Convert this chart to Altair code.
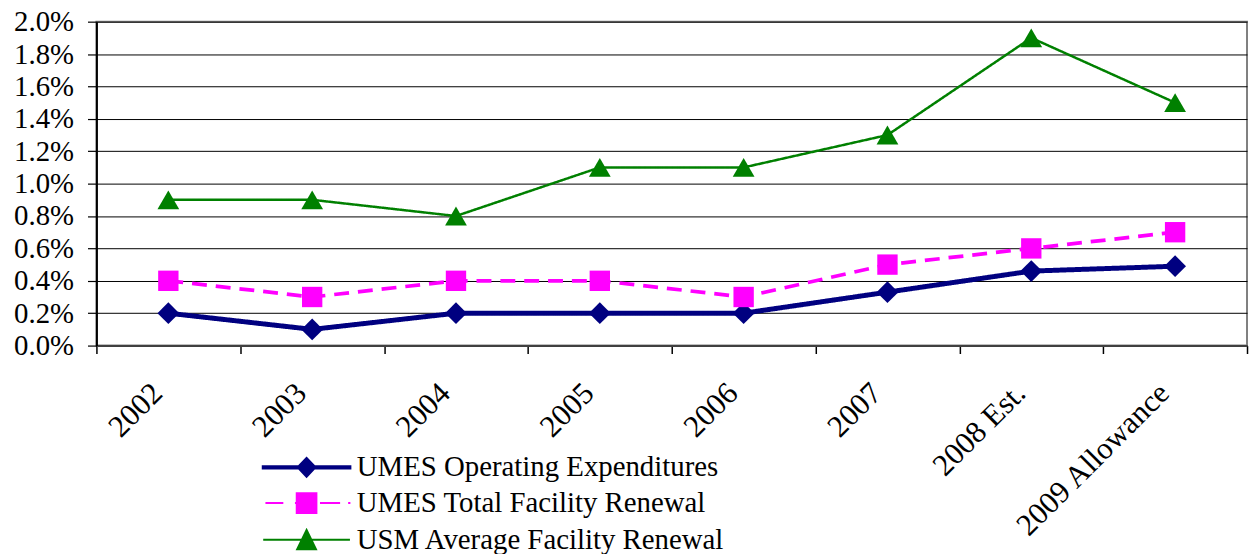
import altair as alt
import pandas as pd

categories = ["2002", "2003", "2004", "2005", "2006", "2007", "2008  Est.", "2009  Allowance"]
series_names = ["UMES Operating Expenditures", "UMES Total Facility Renewal", "USM Average Facility Renewal"]
umes_operating = [0.002, 0.001, 0.002, 0.002, 0.002, 0.0033, 0.0046, 0.0049]
umes_facility = [0.004, 0.003, 0.004, 0.004, 0.003, 0.005, 0.006, 0.007]
usm_facility = [0.009, 0.009, 0.008, 0.011, 0.011, 0.013, 0.019, 0.015]

series_colors = ["#000080", "#FF00FF", "#008000"]
series_shapes = ["diamond", "square", "triangle-up"]
series_sizes = [480, 420, 480]
series_widths = [5, 2.5, 2]
series_dash = [[1, 0], [15, 9], [1, 0]]
legend_paths = [
    "M-4.9,-0.13H4.9V0.13H-4.9Z M0,-1.05L1.0,0L0,1.05L-1.0,0Z",
    "M-4.6,0H-2.6 M-1.3,0H-1.1 M1.5,0H3.75 M4.65,0H4.9 M-1.1,-1.1H1.1V1.1H-1.1Z",
    "M-4.85,0H4.85 M0,-1.1L1.05,1.05L-1.05,1.05Z",
]
legend_rows_y = [434, 470, 507]

rows = []
for name, vals in zip(series_names, [umes_operating, umes_facility, usm_facility]):
    for cat, v in zip(categories, vals):
        rows.append({"Year": cat, "Series": name, "Value": v})
df = pd.DataFrame(rows)

FONT = "Liberation Serif, serif"

x_enc = alt.X(
    "Year:N",
    sort=categories,
    scale=alt.Scale(type="band", paddingInner=0, paddingOuter=0),
    axis=alt.Axis(
        title=None,
        labelAngle=-45,
        labelAlign="right",
        labelBaseline="middle",
        labelFont=FONT,
        labelFontSize=31,
        labelColor="#000",
        labelPadding=35,
        labelOffset=-11,
        labelLimit=500,
        labelOverlap=False,
        tickBand="extent",
        tickSize=8,
        tickColor="#000",
        tickWidth=1.5,
        domainColor="#404040",
        domainWidth=2,
        grid=False,
    ),
)
y_enc = alt.Y(
    "Value:Q",
    scale=alt.Scale(domain=[0, 0.02], nice=False, zero=True),
    axis=alt.Axis(
        title=None,
        format=".1%",
        values=[i * 0.002 for i in range(11)],
        labelFont=FONT,
        labelFontSize=29,
        labelColor="#000",
        labelPadding=14,
        tickSize=9,
        tickColor="#000",
        tickWidth=1.2,
        domainColor="#000",
        domainWidth=2,
        grid=True,
        gridColor="#000",
        gridWidth=1,
    ),
)

color_scale = alt.Scale(domain=series_names, range=series_colors)

lines = alt.Chart(df).mark_line().encode(
    x=x_enc,
    y=y_enc,
    color=alt.Color("Series:N", scale=color_scale, legend=None),
    strokeWidth=alt.StrokeWidth("Series:N", scale=alt.Scale(domain=series_names, range=series_widths), legend=None),
    strokeDash=alt.StrokeDash("Series:N", scale=alt.Scale(domain=series_names, range=series_dash), legend=None),
)

point_layers = []
for name, shp, sz in zip(series_names, series_shapes, series_sizes):
    point_layers.append(
        alt.Chart(df)
        .transform_filter(alt.datum.Series == name)
        .mark_point(filled=True, opacity=1, size=sz, shape=shp)
        .encode(
            x=x_enc,
            y=y_enc,
            color=alt.Color("Series:N", scale=color_scale, legend=None),
        )
    )

legend_layers = []
for i, (name, col, path, ly) in enumerate(zip(series_names, series_colors, legend_paths, legend_rows_y)):
    legend_layers.append(
        alt.Chart(df)
        .transform_filter("false")
        .transform_calculate(**{f"Entry{i}": "datum.Series"})
        .mark_point(filled=True, opacity=1, color=col, fill=col, stroke=col, strokeWidth=2)
        .encode(
            shape=alt.Shape(
                f"Entry{i}:N",
                scale=alt.Scale(domain=[name], range=[path]),
                legend=alt.Legend(
                    title=None,
                    orient="none",
                    legendX=197,
                    legendY=ly,
                    direction="vertical",
                    symbolSize=324,
                    symbolStrokeWidth=2,
                    symbolOpacity=1,
                    labelFont=FONT,
                    labelFontSize=29,
                    labelColor="#000",
                    labelOffset=36,
                    labelLimit=600,
                ),
            ),
        )
    )

chart = (
    alt.layer(lines, *point_layers, *legend_layers)
    .resolve_scale(shape="independent")
    .properties(
        width=1158,
        height=326,
        autosize=alt.AutoSizeParams(type="none"),
        padding={"left": 89, "top": 12, "right": 2, "bottom": 208},
        background="white",
    )
    .configure(font=FONT)
    .configure_axis(labelFont=FONT)
    .configure_legend(labelFont=FONT, labelFontSize=29, labelColor="#000")
    .configure_view(stroke="#808080", strokeWidth=2)
)

chart.save("out.html", embed_options={"renderer": "svg", "actions": False})
